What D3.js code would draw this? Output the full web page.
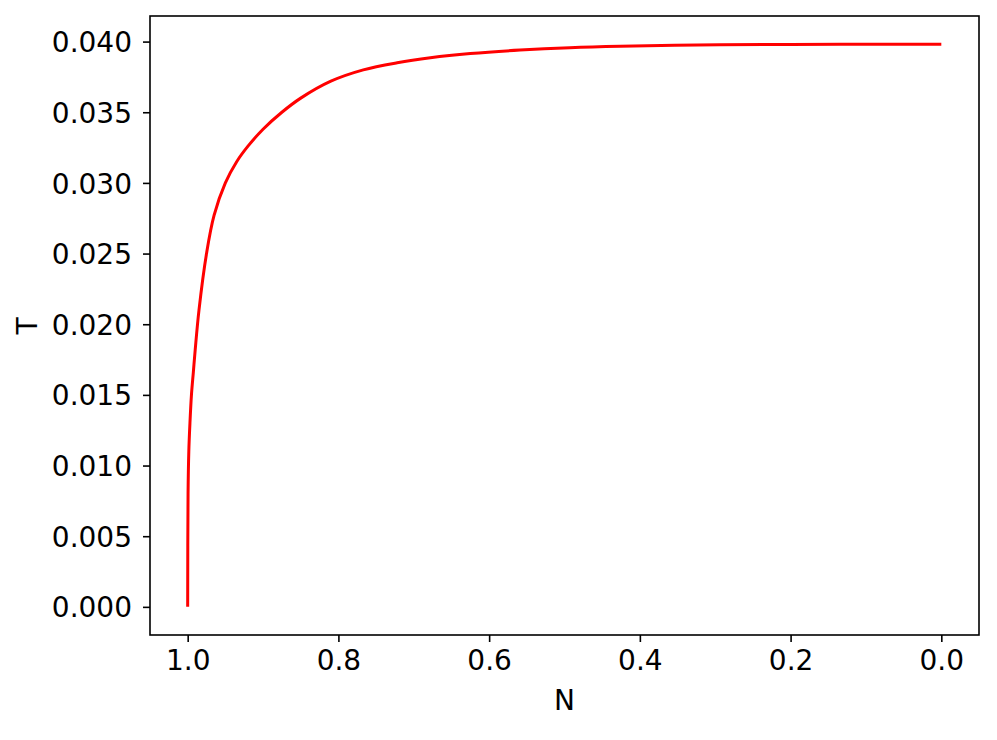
<!DOCTYPE html>
<html>
<head>
<meta charset="utf-8">
<script src="https://cdn.jsdelivr.net/npm/d3@7"></script>
<style>
  body { margin: 0; background: #fff; }
  text { font-family: 'DejaVu Sans', sans-serif; fill: #000; }
</style>
</head>
<body>
<div id="vis"></div>
<script>
var width = 997,
    height = 740;

// values
var nValues = [1.0000, 0.9995, 0.9985, 0.9970, 0.9950, 0.9925, 0.9900, 0.9850, 0.9750, 0.9650,
               0.9500, 0.9350, 0.9200, 0.9000, 0.8750, 0.8500, 0.8100, 0.7670, 0.7220, 0.6780,
               0.6250, 0.5590, 0.4930, 0.4260, 0.2940, 0.2000, 0.1000, 0.0000];
var tValues = [0.0000, 0.0080, 0.0110, 0.0130, 0.0150, 0.0166, 0.0182, 0.0210, 0.0250, 0.0277,
               0.0300, 0.0315, 0.0326, 0.0338, 0.0350, 0.0360, 0.0372, 0.0380, 0.0385, 0.03885,
               0.03915, 0.03940, 0.03957, 0.03967, 0.03977, 0.03980, 0.03981, 0.03982];

var xTicks = [1.0, 0.8, 0.6, 0.4, 0.2, 0.0];
var yTicks = [0.000, 0.005, 0.010, 0.015, 0.020, 0.025, 0.030, 0.035, 0.040];

var margin = {left: 150, right: 18, top: 16, bottom: 105};

var svg = d3.select('#vis').append('svg')
    .attr("width", width)
    .attr("height", height);

var plotW = width - margin.left - margin.right,
    plotH = height - margin.top - margin.bottom;

// matplotlib style 5% padding around the data
var xPad = 0.05 * (1.0 - 0.0);
var yMax = d3.max(tValues);
var yPad = 0.05 * yMax;

var x = d3.scaleLinear()
    .domain([1.0 + xPad, 0.0 - xPad])
    .range([margin.left, margin.left + plotW]);

var y = d3.scaleLinear()
    .domain([0 - yPad, yMax + yPad])
    .range([margin.top + plotH, margin.top]);

var data = nValues.map(function(n, i) { return {n: n, t: tValues[i]}; });

var line = d3.line()
    .x(function(d) { return x(d.n); })
    .y(function(d) { return y(d.t); })
    .curve(d3.curveCatmullRom.alpha(0.5));

svg.append("path")
    .datum(data)
    .attr("d", line)
    .attr("fill", "none")
    .attr("stroke", "#ff0000")
    .attr("stroke-width", 3);

// axes
var xAxis = d3.axisBottom(x)
    .tickValues(xTicks)
    .tickFormat(d3.format(".1f"))
    .tickSize(7)
    .tickPadding(8)
    .tickSizeOuter(0);

var yAxis = d3.axisLeft(y)
    .tickValues(yTicks)
    .tickFormat(d3.format(".3f"))
    .tickSize(7)
    .tickPadding(11)
    .tickSizeOuter(0);

var gx = svg.append("g")
    .attr("transform", "translate(0," + (margin.top + plotH) + ")")
    .call(xAxis);

var gy = svg.append("g")
    .attr("transform", "translate(" + margin.left + ",0)")
    .call(yAxis);

[gx, gy].forEach(function(g) {
  g.select(".domain").remove();
  g.selectAll(".tick line").attr("stroke", "#000").attr("stroke-width", 1.6);
  g.selectAll(".tick text")
    .style("font-size", "28px")
    .style("font-family", "'DejaVu Sans', sans-serif")
    .attr("fill", "#000");
});

gx.selectAll(".tick text").attr("dy", "0.71em");
gy.selectAll(".tick text").attr("dy", "0.36em");

// frame
svg.append("rect")
    .attr("x", margin.left)
    .attr("y", margin.top)
    .attr("width", plotW)
    .attr("height", plotH)
    .attr("fill", "none")
    .attr("stroke", "#000")
    .attr("stroke-width", 1.6);

// axis titles
svg.append("text")
    .attr("x", margin.left + plotW / 2)
    .attr("y", 710)
    .attr("text-anchor", "middle")
    .style("font-size", "28px")
    .text("N");

svg.append("text")
    .attr("transform", "translate(37,326) rotate(-90)")
    .attr("text-anchor", "middle")
    .style("font-size", "28px")
    .text("T");
</script>
</body>
</html>
